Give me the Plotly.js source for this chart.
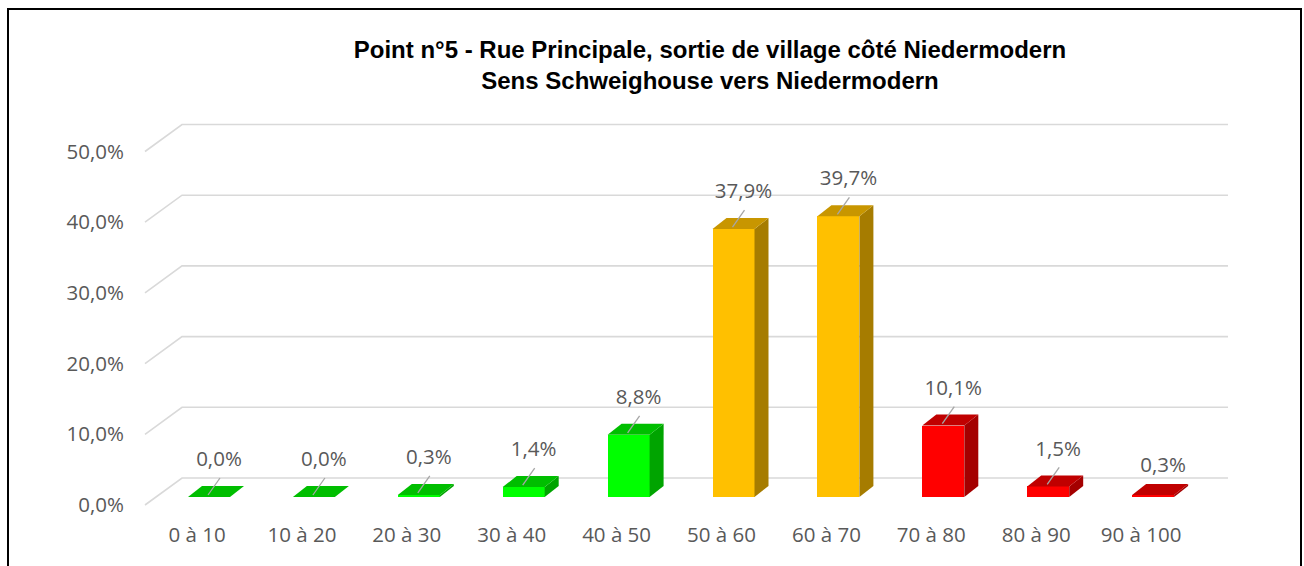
<!DOCTYPE html>
<html>
<head>
<meta charset="utf-8">
<script src="https://cdn.plot.ly/plotly-3.0.1.min.js"></script>
<style>
  html, body { margin: 0; padding: 0; background: #fff; overflow: hidden; }
  #wrap { position: relative; width: 1304px; height: 566px; }
  #chart { position: absolute; left: 0; top: 0; width: 1304px; height: 566px; }
  #frame { position: absolute; left: 7px; top: 8px; width: 1291px; height: 600px;
           border: 2px solid #000; pointer-events: none; }
</style>
</head>
<body>
<div id="wrap">
  <div id="chart"></div>
  <div id="frame"></div>
</div>
<script>
// ---------------- data ----------------
const categories = ['0 à 10', '10 à 20', '20 à 30', '30 à 40', '40 à 50',
                    '50 à 60', '60 à 70', '70 à 80', '80 à 90', '90 à 100'];
const values = [0.0, 0.0, 0.3, 1.4, 8.8, 37.9, 39.7, 10.1, 1.5, 0.3];
const colorGroups = ['green', 'green', 'green', 'green', 'green',
                     'amber', 'amber', 'red', 'red', 'red'];
const tickValues = [0, 10, 20, 30, 40, 50];
const tickLabels = ['0,0%', '10,0%', '20,0%', '30,0%', '40,0%', '50,0%'];

// ---------------- styles / geometry ----------------
const palette = {
  green: { front: '#00FF00', top: '#00BE00', side: '#00A400' },
  amber: { front: '#FFC000', top: '#C89600', side: '#A67C00' },
  red:   { front: '#FF0000', top: '#C00000', side: '#A40000' }
};
const TXT = '#595959';
const FONT = 'Open Sans, Lato, sans-serif';
const PL = 130, PR = 1260, PT = 80, PB = 518;     // plot area in px
const X0 = 209, XSTEP = 104.9;                    // first bar front center, category step
const YS = 7.07;                                  // px per 1 %
const FRONT0 = 505, BAR0 = 497;                   // pixel of 0 % on the floor front and on the bar plane
const BARW = 42, BDX = 14, BDY = 11;              // bar width / depth
const GDX = 37, GDY = 27, GRIDX0 = 145, GRIDX1 = 1228; // floor depth and grid extent
const xu = px => (px - X0) / XSTEP;
const yu = px => px / YS;

const xRange = [xu(PL), xu(PR)];
const yRange = [(FRONT0 - PB) / YS, (FRONT0 - PT) / YS];   // front plane (tick labels / grid)
const y2Range = [(BAR0 - PB) / YS, (BAR0 - PT) / YS];      // bar plane

const traces = [];

// gridlines (front-left slant then along the back wall)
const gx = [], gy = [];
tickValues.forEach(g => {
  gx.push(xu(GRIDX0), xu(GRIDX0 + GDX), xu(GRIDX1), null);
  gy.push(g, g + yu(GDY), g + yu(GDY), null);
});
traces.push({ type: 'scatter', mode: 'lines', x: gx, y: gy, xaxis: 'x', yaxis: 'y',
  line: { color: '#D9D9D9', width: 1.6 }, hoverinfo: 'skip', showlegend: false });

// front faces
const idx = categories.map((c, i) => i);
traces.push({ type: 'bar', x: idx, y: values, xaxis: 'x', yaxis: 'y2',
  width: BARW / XSTEP, marker: { color: colorGroups.map(g => palette[g].front), line: { width: 0 } },
  hoverinfo: 'skip', showlegend: false });

// side and top faces
const w = BARW / XSTEP / 2, dx = BDX / XSTEP, dy = yu(BDY);
values.forEach((v, i) => {
  const p = palette[colorGroups[i]];
  if (v > 0) {
    traces.push({ type: 'scatter', mode: 'lines', fill: 'toself', xaxis: 'x', yaxis: 'y2',
      x: [i + w, i + w + dx, i + w + dx, i + w, i + w],
      y: [0, dy, v + dy, v, 0],
      fillcolor: p.side, line: { width: 0, color: p.side }, hoverinfo: 'skip', showlegend: false });
  }
  traces.push({ type: 'scatter', mode: 'lines', fill: 'toself', xaxis: 'x', yaxis: 'y2',
    x: [i - w, i + w, i + w + dx, i - w + dx, i - w],
    y: [v, v, v + dy, v + dy, v],
    fillcolor: p.top, line: { width: 0, color: p.top }, hoverinfo: 'skip', showlegend: false });
});

// leader lines (the last label sits close to its bar and has none)
const lx = [], ly = [];
values.forEach((v, i) => {
  if (i === values.length - 1) return;
  lx.push(i - 1 / XSTEP, i + 11 / XSTEP, null);
  ly.push(v + yu(2), v + yu(19), null);
});
traces.push({ type: 'scatter', mode: 'lines', x: lx, y: ly, xaxis: 'x', yaxis: 'y2',
  line: { color: '#A6A6A6', width: 1.3 }, hoverinfo: 'skip', showlegend: false });

// data labels
traces.push({ type: 'scatter', mode: 'text', xaxis: 'x', yaxis: 'y2',
  x: idx.map(i => i + 10 / XSTEP),
  y: values.map((v, i) => v + yu(i === values.length - 1 ? 28 : 36)),
  text: values.map(v => v.toFixed(1).replace('.', ',') + '%'),
  textposition: 'middle center', textfont: { family: FONT, size: 20.5, color: TXT },
  hoverinfo: 'skip', showlegend: false, cliponaxis: false });

const layout = {
  width: 1304, height: 566,
  margin: { l: PL, r: 1304 - PR, t: PT, b: 566 - PB, pad: 0 },
  paper_bgcolor: 'rgba(0,0,0,0)', plot_bgcolor: 'rgba(0,0,0,0)',
  showlegend: false,
  title: {
    text: 'Point n°5 - Rue Principale, sortie de village côté Niedermodern<br>Sens Schweighouse vers Niedermodern',
    font: { family: 'Liberation Sans, Arial, sans-serif', size: 24, weight: 'bold', color: '#000' },
    xref: 'container', x: 710 / 1304, xanchor: 'center',
    yref: 'container', y: 1 - 58 / 566, yanchor: 'top'
  },
  xaxis: {
    range: xRange, showgrid: false, zeroline: false, showline: false, ticks: '',
    tickvals: idx.map(i => i - 12 / XSTEP), ticktext: categories, ticklabelstandoff: 2,
    tickfont: { family: FONT, size: 20.5, color: TXT }, fixedrange: true
  },
  yaxis: {
    range: yRange, showgrid: false, zeroline: false, showline: false, ticks: '',
    tickvals: tickValues, ticktext: tickLabels, ticklabelstandoff: 5,
    tickfont: { family: FONT, size: 20.5, color: TXT }, fixedrange: true
  },
  yaxis2: {
    range: y2Range, overlaying: 'y', showgrid: false, zeroline: false, showline: false,
    showticklabels: false, ticks: '', fixedrange: true
  },
  bargap: 0
};

Plotly.newPlot('chart', traces, layout, { displayModeBar: false, staticPlot: true });
</script>
</body>
</html>
